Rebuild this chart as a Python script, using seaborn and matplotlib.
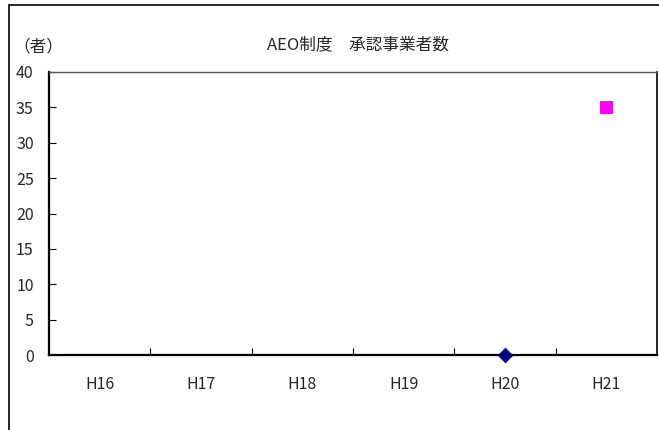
import numpy as np
import pandas as pd
import matplotlib
matplotlib.use("Agg")
import matplotlib.pyplot as plt
from matplotlib.patches import Rectangle
import seaborn as sns

# data
years = ["H16", "H17", "H18", "H19", "H20", "H21"]
series_a = [np.nan, np.nan, np.nan, np.nan, 0, np.nan]    # navy diamond
series_b = [np.nan, np.nan, np.nan, np.nan, np.nan, 35]   # magenta square
y_ticks = [0, 5, 10, 15, 20, 25, 30, 35, 40]

sns.set_style("white")
plt.rcParams["font.family"] = ["Noto Sans CJK JP", "DejaVu Sans"]

df = pd.DataFrame({"year": years, "a": series_a, "b": series_b})

fig = plt.figure(figsize=(6.59, 4.30), dpi=100)
ax = fig.add_axes([49 / 659, 1 - 355 / 430, 608 / 659, 283 / 430])

sns.scatterplot(data=df, x="year", y="a", marker="D", color="#000080",
                s=55, edgecolor="#000080", ax=ax, zorder=5, clip_on=False)
sns.scatterplot(data=df, x="year", y="b", marker="s", color="#FF00FF",
                s=75, edgecolor="#FF00FF", ax=ax, zorder=5, clip_on=False)

ax.set_xlim(-0.5, len(years) - 0.5)
ax.set_ylim(0, 40)
ax.set_yticks(y_ticks)
ax.set_xticks(range(len(years)))
ax.set_xticklabels(years)
ax.set_xticks(np.arange(0.5, len(years) - 1, 1), minor=True)
ax.set_xlabel("")
ax.set_ylabel("")

ax.tick_params(axis="x", which="major", length=0, pad=15, labelsize=11.5)
ax.tick_params(axis="x", which="minor", direction="in", length=5,
               width=0.8, color="black", bottom=True)
ax.tick_params(axis="y", direction="in", length=5, width=0.8,
               color="black", left=True, pad=11, labelsize=11.5)

for side in ["left", "bottom"]:
    ax.spines[side].set_color("black")
    ax.spines[side].set_linewidth(1.6)
ax.spines["right"].set_color("black")
ax.spines["right"].set_linewidth(1.2)
ax.spines["top"].set_color("#555555")
ax.spines["top"].set_linewidth(1.0)

fig.text(358 / 659, 1 - 45 / 430, "AEO制度\u3000承認事業者数",
         ha="center", va="center", fontsize=12)
fig.text(38 / 659, 1 - 47 / 430, "（者）", ha="center", va="center",
         fontsize=12)

# outer chart frame (right and bottom edges fall outside the image)
fig.add_artist(Rectangle((9 / 659, -0.2), 1.2, 1.2 - 5 / 430,
                         transform=fig.transFigure, fill=False,
                         edgecolor="black", linewidth=1.2))

fig.savefig("out.png", dpi=100)
